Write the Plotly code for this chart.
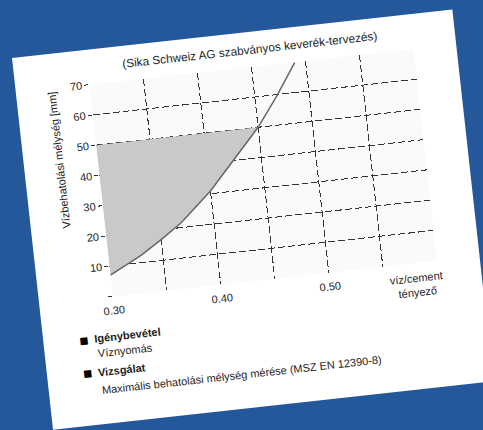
import plotly.graph_objects as go

# Water/cement ratio against water penetration depth (mm)
wc_ratio = [0.30, 0.33, 0.35, 0.37, 0.40, 0.42, 0.44, 0.45, 0.47, 0.49]
depth_mm = [7.0, 12.4, 16.8, 21.6, 30.9, 38.4, 46.1, 50.0, 59.4, 69.8]

# Upper limit of the permitted penetration depth (top of the shaded zone)
limit_mm = 50

x_ticks = [0.30, 0.35, 0.40, 0.45, 0.50, 0.55, 0.60]
x_tick_text = ["0.30", "", "0.40", "", "0.50", "", ""]
y_ticks = [0, 10, 20, 30, 40, 50, 60, 70]
y_tick_text = ["", "10", "20", "30", "40", "50", "60", "70"]

title_text = "(Sika Schweiz AG szabványos keverék-tervezés)"
y_title = "Vízbehatolási mélység [mm]"
x_title = "víz/cement<br>tényező"
note_heads = ["Igénybevétel", "Vizsgálat"]
note_bodies = ["Víznyomás", "Maximális behatolási mélység mérése (MSZ EN 12390-8)"]

FONT = "Liberation Sans, Arial, sans-serif"
INK = "#1e1e1e"
GRID = "#333333"

# card size and plot margins in px
W, H = 443, 374
ML, MR, MT, MB = 74, 43, 35, 126
PW, PH = W - ML - MR, H - MT - MB


def px(u):
    return (u - ML) / PW


def py(v):
    return (MT + PH - v) / PH


# shaded zone: left edge, the curve up to the limit, back along the limit line
pts = [(x, y) for x, y in zip(wc_ratio, depth_mm) if y <= limit_mm]
zone_x = [x_ticks[0]] + [p[0] for p in pts] + [x_ticks[0]]
zone_y = [limit_mm] + [p[1] for p in pts] + [limit_mm]

fig = go.Figure()
fig.add_trace(go.Scatter(
    x=zone_x, y=zone_y, mode="lines", fill="toself",
    fillcolor="#c9c9c9", line=dict(width=0), hoverinfo="skip",
))
fig.add_trace(go.Scatter(
    x=wc_ratio, y=depth_mm, mode="lines",
    line=dict(color="#666666", width=1.5),
))

fig.update_xaxes(
    range=[0.30, 0.60], tickvals=x_ticks, ticktext=x_tick_text,
    showgrid=True, gridcolor=GRID, gridwidth=1, griddash="7px,3px",
    zeroline=False, showline=False, ticks="",
    tickfont=dict(family=FONT, size=11, color=INK), ticklabelstandoff=6,
)
fig.update_yaxes(
    range=[0, 70], tickvals=y_ticks, ticktext=y_tick_text,
    showgrid=True, gridcolor=GRID, gridwidth=1, griddash="7px,3px",
    zeroline=False, showline=False, ticks="outside", ticklen=4,
    tickcolor=GRID, tickfont=dict(family=FONT, size=11, color=INK),
)

ann = []
ann.append(dict(text=title_text, x=0.5, y=py(18), xanchor="center", yanchor="middle",
                font=dict(size=11.8, color=INK)))
ann.append(dict(text=y_title, x=px(35.5), y=py(107), textangle=-90,
                xanchor="center", yanchor="middle", font=dict(size=11, color=INK)))
ann.append(dict(text=x_title, x=px(377), y=py(269.5), xanchor="center", yanchor="middle",
                font=dict(size=11, color=INK)))

head_v = [288, 321.5]
body_v = [303, 339.7]
for head, body, hv, bv in zip(note_heads, note_bodies, head_v, body_v):
    ann.append(dict(text="■", x=px(40), y=py(hv), xanchor="center", yanchor="middle",
                    font=dict(size=15, color="#000000")))
    ann.append(dict(text="<b>" + head + "</b>", x=px(49), y=py(hv), xanchor="left",
                    yanchor="middle", font=dict(size=11, color=INK)))
    ann.append(dict(text=body, x=px(51), y=py(bv), xanchor="left",
                    yanchor="middle", font=dict(size=11, color=INK)))

for a in ann:
    a.update(xref="paper", yref="paper", showarrow=False)

fig.update_layout(
    width=W, height=H,
    margin=dict(l=ML, r=MR, t=MT, b=MB),
    paper_bgcolor="#ffffff", plot_bgcolor="#fafafa",
    font=dict(family=FONT, size=11, color=INK),
    showlegend=False, annotations=ann,
)

# page styling: blue backdrop, card tilted slightly counter-clockwise
page_script = """
var gd = document.getElementById('{plot_id}');
var bg = '#25589b';
document.documentElement.style.background = bg;
document.documentElement.style.overflow = 'hidden';
document.body.style.background = bg;
document.body.style.margin = '0';
document.body.style.overflow = 'hidden';
gd.style.position = 'absolute';
gd.style.left = '12px';
gd.style.top = '58px';
gd.style.transformOrigin = '0 0';
gd.style.transform = 'rotate(-6.3deg)';
"""

fig.write_html("out.html", config=dict(displayModeBar=False, staticPlot=True),
               post_script=page_script)
